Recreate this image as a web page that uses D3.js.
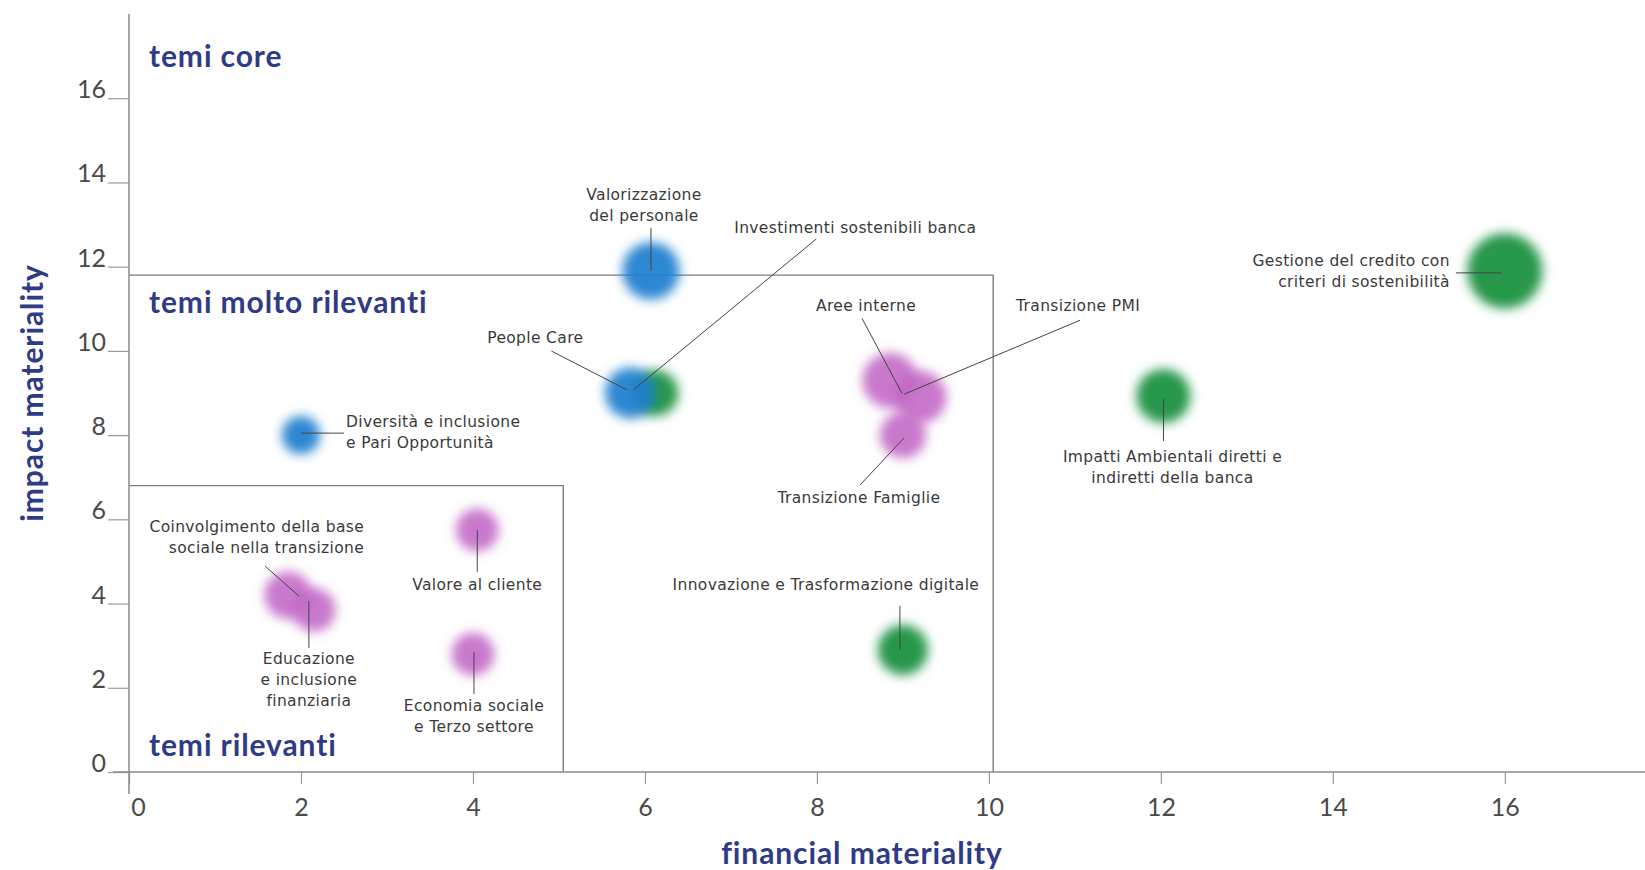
<!DOCTYPE html>
<html>
<head>
<meta charset="utf-8">
<script src="https://cdn.jsdelivr.net/npm/d3@7"></script>
<style>
  html, body { margin: 0; padding: 0; background: #ffffff; }
  svg { display: block; }
</style>
</head>
<body>
<svg id="chart" width="1645" height="870"></svg>
<script>
// ---------------- DATA ----------------
const topics = [
  "Valorizzazione\ndel personale",
  "Investimenti sostenibili banca",
  "People Care",
  "Diversità e inclusione\ne Pari Opportunità",
  "Coinvolgimento della base\nsociale nella transizione",
  "Educazione\ne inclusione\nfinanziaria",
  "Valore al cliente",
  "Economia sociale\ne Terzo settore",
  "Aree interne",
  "Transizione PMI",
  "Transizione Famiglie",
  "Innovazione e Trasformazione digitale",
  "Impatti Ambientali diretti e\nindiretti della banca",
  "Gestione del credito con\ncriteri di sostenibilità"
];
const financialMateriality = [6.07, 6.12, 5.83, 2, 1.85, 2.15, 4.05, 4, 8.85, 9.2, 9, 9, 12.03, 16];
const impactMateriality    = [11.9, 9, 9, 8, 4.2, 3.85, 5.75, 2.8, 9.3, 8.9, 8, 2.9, 8.93, 11.9];
const topicGroup = ["people", "environment", "people", "people", "social", "social", "social",
                    "social", "social", "social", "social", "environment", "environment", "environment"];
const bubbleWeight = [8.7, 7, 7.7, 5.8, 7.2, 6.6, 6.5, 6.5, 8.4, 8, 7, 7.6, 8.2, 11.4];

const xTicks = [0, 2, 4, 6, 8, 10, 12, 14, 16];
const yTicks = [0, 2, 4, 6, 8, 10, 12, 14, 16];
const zoneFinancialLimit = [5.05, 10.05];
const zoneImpactLimit = [6.8, 11.8];
const zoneNames = ["temi rilevanti", "temi molto rilevanti", "temi core"];
const xTitle = "financial materiality";
const yTitle = "impact materiality";

// ---------------- LAYOUT / STYLE ----------------
const W = 1645, H = 870;
const x = d3.scaleLinear().domain([0, 17.63]).range([129, 1645]);
const y = d3.scaleLinear().domain([0, 18]).range([772, 14]);
const r = d3.scaleLinear().domain([0, 10]).range([0, 33]);
const groupColor = { people: "#1f7fcf", environment: "#168f3c", social: "#c266c5" };
const groupOpacity = { people: 0.93, environment: 0.93, social: 0.88 };
const navy = "#2f3b84";
const labelFont = "'DejaVu Sans', sans-serif";
const titleFont = "Lato, 'Noto Sans', sans-serif";

// label layout, offsets in px from the bubble centre
// t: [dx, dy of first baseline], a: anchor, l: [x1,y1,x2,y2] leader line
const labelLayout = [
  { t: [-7, -71], a: "middle", l: [0, -43, 0, 0] },
  { t: [79, -160], a: "start", l: [161, -154, -22, -3] },
  { t: [-95, -50], a: "middle", l: [-79, -42, -3, -3] },
  { t: [45, -8], a: "start", l: [43, -2, 0, -2] },
  { t: [76, -63], a: "end", l: [-23, -29, 11, 1] },
  { t: [-5, 54], a: "middle", l: [-5, 38, -5, -9] },
  { t: [0, 60], a: "middle", l: [0, 42, 0, 0] },
  { t: [1, 57], a: "middle", l: [1, 40, 1, -2] },
  { t: [-24, -69], a: "middle", l: [-28, -62, 12, 13] },
  { t: [158, -86], a: "middle", l: [160, -77, -16, -3] },
  { t: [-44, 68], a: "middle", l: [-43, 50, 1, 3] },
  { t: [-77, -60], a: "middle", l: [-3, -44, -3, 0] },
  { t: [9, 66], a: "middle", l: [0, 45, 0, 3] },
  { t: [-55, -5], a: "end", l: [-49, 2, -3, 2] }
];

const svg = d3.select("#chart");

const defs = svg.append("defs");
defs.append("filter").attr("id", "soft")
  .attr("x", "-60%").attr("y", "-60%").attr("width", "220%").attr("height", "220%")
  .append("feGaussianBlur").attr("stdDeviation", 5.5);

const data = topics.map((t, i) => ({
  name: t, fx: financialMateriality[i], iy: impactMateriality[i],
  group: topicGroup[i], w: bubbleWeight[i], lay: labelLayout[i]
}));

// ---------------- ZONES ----------------
const zones = svg.append("g").attr("fill", "none").attr("stroke", "#7d7d7d").attr("stroke-width", 1.4);
zoneFinancialLimit.forEach((fl, i) => {
  const il = zoneImpactLimit[i];
  zones.append("path")
    .attr("d", d3.line()([[x(0), y(il)], [x(fl), y(il)], [x(fl), y(0)]]));
});

// zone names
const zoneNameY = [0.38, 10.9, 16.75];
svg.append("g").selectAll("text").data(zoneNames).join("text")
  .attr("x", x(0) + 20)
  .attr("y", (d, i) => y(zoneNameY[i]))
  .attr("font-family", titleFont)
  .attr("font-weight", 700)
  .attr("font-size", 30)
  .attr("letter-spacing", "0.9")
  .attr("fill", navy)
  .text(d => d);

// ---------------- AXES ----------------
const gx = svg.append("g").attr("transform", `translate(0,${y(0)})`)
  .call(d3.axisBottom(x).tickValues(xTicks).tickSize(12).tickPadding(14).tickFormat(d3.format("d")));
gx.select(".domain").remove();
gx.selectAll(".tick line").attr("stroke", "#9a9a9a").attr("stroke-width", 1.2);
gx.selectAll(".tick text").attr("font-family", titleFont).attr("font-size", 25)
  .attr("fill", "#4a4a4a").attr("dx", d => d === 0 ? 9 : 0);

const gy = svg.append("g").attr("transform", `translate(${x(0)},0)`)
  .call(d3.axisLeft(y).tickValues(yTicks).tickSize(21).tickPadding(2).tickFormat(d3.format("d")));
gy.select(".domain").remove();
gy.selectAll(".tick line").attr("stroke", "#9a9a9a").attr("stroke-width", 1.2);
gy.selectAll(".tick text").attr("font-family", titleFont).attr("font-size", 25)
  .attr("fill", "#4a4a4a").attr("dy", "-0.02em");

// axis lines
svg.append("line").attr("x1", x(0) - 16).attr("x2", W).attr("y1", y(0)).attr("y2", y(0))
  .attr("stroke", "#8a8a8a").attr("stroke-width", 1.5);
svg.append("line").attr("x1", x(0)).attr("x2", x(0)).attr("y1", y.range()[1]).attr("y2", y(0) + 22)
  .attr("stroke", "#8a8a8a").attr("stroke-width", 1.5);

// axis titles
svg.append("text").attr("x", 862).attr("y", 852)
  .attr("text-anchor", "middle").attr("dominant-baseline", "central")
  .attr("font-family", titleFont).attr("font-weight", 700).attr("font-size", 30)
  .attr("letter-spacing", "0.9").attr("fill", navy).text(xTitle);
svg.append("text").attr("transform", `translate(31,${y(9)}) rotate(-90)`)
  .attr("text-anchor", "middle").attr("dominant-baseline", "central")
  .attr("font-family", titleFont).attr("font-weight", 700).attr("font-size", 30)
  .attr("letter-spacing", "0.9").attr("fill", navy).text(yTitle);

// ---------------- BUBBLES ----------------
svg.append("g").selectAll("circle").data(data).join("circle")
  .attr("cx", d => x(d.fx)).attr("cy", d => y(d.iy))
  .attr("r", d => r(d.w))
  .attr("fill", d => groupColor[d.group])
  .attr("fill-opacity", d => groupOpacity[d.group])
  .attr("filter", "url(#soft)");

// ---------------- LEADER LINES ----------------
svg.append("g").selectAll("line").data(data).join("line")
  .attr("x1", d => x(d.fx) + d.lay.l[0]).attr("y1", d => y(d.iy) + d.lay.l[1])
  .attr("x2", d => x(d.fx) + d.lay.l[2]).attr("y2", d => y(d.iy) + d.lay.l[3])
  .attr("stroke", "#444").attr("stroke-width", 1);

// ---------------- LABELS ----------------
const lg = svg.append("g").attr("font-family", labelFont).attr("font-size", 15.5)
  .attr("letter-spacing", "0.35").attr("fill", "#3a3a3a");
data.forEach(d => {
  const t = lg.append("text")
    .attr("text-anchor", d.lay.a)
    .attr("x", x(d.fx) + d.lay.t[0])
    .attr("y", y(d.iy) + d.lay.t[1]);
  d.name.split("\n").forEach((line, k) => {
    t.append("tspan").attr("x", x(d.fx) + d.lay.t[0]).attr("dy", k === 0 ? 0 : 21).text(line);
  });
});
</script>
</body>
</html>
